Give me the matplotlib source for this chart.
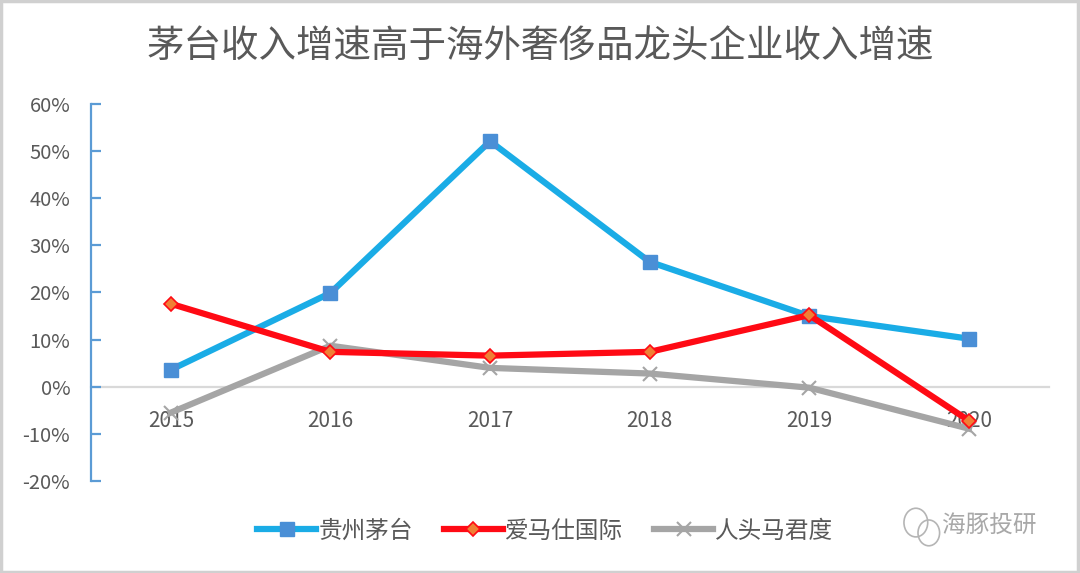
import matplotlib
matplotlib.use("Agg")
import matplotlib.pyplot as plt
from matplotlib.ticker import FuncFormatter, FixedLocator
from matplotlib.patches import Rectangle, Ellipse

plt.rcParams['font.family'] = ['Noto Sans CJK SC', 'DejaVu Sans']

title = "茅台收入增速高于海外奢侈品龙头企业收入增速"
years = ["2015", "2016", "2017", "2018", "2019", "2020"]
maotai = [3.6, 19.9, 52.1, 26.5, 15.0, 10.2]
hermes = [17.6, 7.4, 6.6, 7.4, 15.2, -7.2]
lvmh = [-5.5, 8.7, 4.0, 2.8, -0.2, -8.9]
series_names = ["贵州茅台", "爱马仕国际", "人头马君度"]
yticks = [-20, -10, 0, 10, 20, 30, 40, 50, 60]

fig = plt.figure(figsize=(10.8, 5.73), dpi=100)
fig.patch.set_facecolor("white")
ax = fig.add_axes([0.0843, 0.1606, 0.8867, 0.6579])

x = list(range(len(years)))
ax.plot(x, maotai, color="#1AACE6", lw=4.5, marker="s", ms=10,
        mfc="#4A8FD6", mec="#4A8FD6", label=series_names[0], zorder=3, solid_joinstyle="round")
ax.plot(x, hermes, color="#FF0A14", lw=4.5, marker="D", ms=7,
        mfc="#F07F35", mec="#FF0A14", mew=1.2, label=series_names[1], zorder=4, solid_joinstyle="round")
ax.plot(x, lvmh, color="#A5A5A5", lw=4.5, marker="x", ms=10, mew=1.5,
        mec="#A5A5A5", label=series_names[2], zorder=3.5, solid_joinstyle="round")

ax.set_xlim(-0.5, 5.5)
ax.set_ylim(-20, 60)
ax.yaxis.set_major_locator(FixedLocator(yticks))
ax.yaxis.set_major_formatter(FuncFormatter(lambda v, p: f"{v:.0f}%"))
ax.set_xticks(x)
ax.set_xticklabels(years)

for s in ["top", "right"]:
    ax.spines[s].set_visible(False)
ax.spines["left"].set_color("#5B9BD5")
ax.spines["left"].set_linewidth(1.6)
ax.spines["bottom"].set_position(("data", 0))
ax.spines["bottom"].set_color("#D9D9D9")
ax.spines["bottom"].set_linewidth(1.6)
ax.spines["bottom"].set_zorder(1)

ax.tick_params(axis="y", direction="in", length=7, width=1.6, color="#5B9BD5",
               labelsize=14.5, labelcolor="#595959", pad=15)
ax.tick_params(axis="x", length=0, labelsize=15, labelcolor="#595959", pad=17)
for lab in ax.get_xticklabels():
    lab.set_zorder(1)

fig.text(0.5, 0.918, title, ha="center", va="center", fontsize=27, color="#595959")

leg = fig.legend(loc="center", bbox_to_anchor=(0.505, 0.073), ncol=3, frameon=False,
                 fontsize=17, labelcolor="#595959", handlelength=2.5, handletextpad=0.1,
                 columnspacing=1.3)

# watermark
fig.text(0.872, 0.083, "海豚投研", ha="left", va="center", fontsize=17, color="#A8A8A8")
fig.patches.append(Ellipse((0.848, 0.088), 0.022, 0.05, transform=fig.transFigure,
                           fill=False, ec="#B5B5B5", lw=1.2))
fig.patches.append(Ellipse((0.860, 0.070), 0.02, 0.045, transform=fig.transFigure,
                           fill=False, ec="#B5B5B5", lw=1.2))

# figure border
fig.patches.append(Rectangle((0.001, 0.002), 0.997, 0.996, transform=fig.transFigure,
                             fill=False, ec="#D0D0D0", lw=2.5))

fig.savefig("out.png", dpi=100, facecolor="white")
